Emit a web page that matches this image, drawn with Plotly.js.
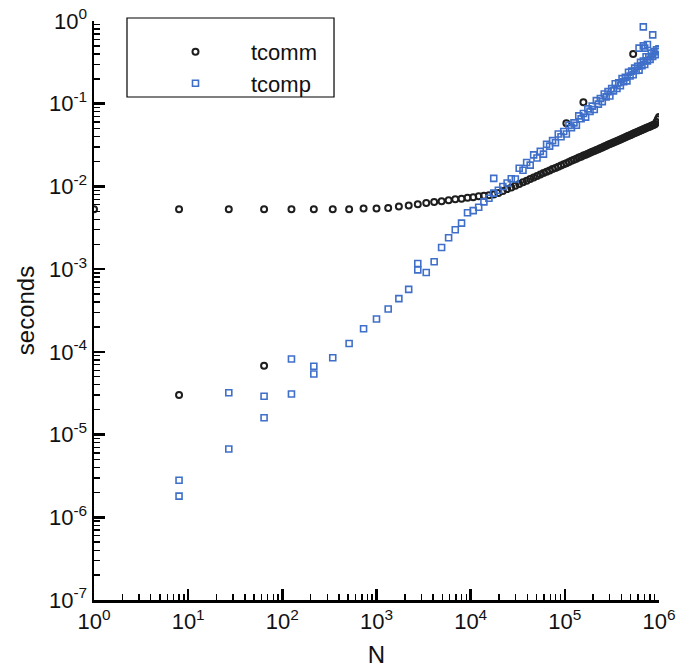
<!DOCTYPE html>
<html>
<head>
<meta charset="utf-8">
<script src="https://cdn.plot.ly/plotly-3.0.1.min.js"></script>
<style>html,body{margin:0;padding:0;background:#fff;}#chart{width:677px;height:671px;}</style>
</head>
<body>
<div id="chart"></div>
<script>
// tcomm: problem size N and communication time (s), plus a few dark outliers
var commN = [1,8,27,64,125,216,343,512,729,1000,1331,1728,2197,2744,3375,4096,4913,5832,6859,8000,
  9261,10648,12167,13824,15625,17576,19683,21952,24389,27000,29791,32768,35937,39304,42875,46656,50653,54872,59319,64000,
  68921,74088,79507,85184,91125,97336,103823,110592,117649,125000,132651,140608,148877,157464,166375,175616,185193,195112,205379,216000,
  226981,238328,250047,262144,274625,287496,300763,314432,328509,343000,357911,373248,389017,405224,421875,438976,456533,474552,493039,512000,
  531441,551368,571787,592704,614125,636056,658503,681472,704969,729000,753571,778688,804357,830584,857375,884736,912673,941192,970299,1000000,
  8,64,103823,157464,531441];
var commT = [0.0053,0.0053,0.0053,0.0053,0.0053,0.0053,0.0053,0.0053,0.0054,0.0054,
  0.0055,0.0057,0.0059,0.0061,0.0063,0.0065,0.0066,0.0068,0.0070,0.0071,
  0.0073,0.0074,0.0076,0.0077,0.0078,0.0080,0.0083,0.0088,0.0093,0.0097,
  0.0102,0.0107,0.0112,0.0117,0.0123,0.0128,0.0134,0.0139,0.0145,0.0150,
  0.0156,0.0162,0.0167,0.0173,0.0179,0.0185,0.0191,0.0197,0.0204,0.0210,
  0.0216,0.0223,0.0229,0.0236,0.0242,0.0249,0.0255,0.0262,0.0269,0.0275,
  0.0282,0.0290,0.0296,0.0303,0.0310,0.0318,0.0325,0.0333,0.0340,0.0348,
  0.0355,0.0362,0.0370,0.0378,0.0385,0.0393,0.0401,0.0409,0.0417,0.0425,
  0.0433,0.0441,0.0449,0.0457,0.0465,0.0473,0.0481,0.0490,0.0498,0.0507,
  0.0515,0.0524,0.0532,0.0541,0.0549,0.0558,0.0570,0.0600,0.0650,0.0690,
  3.0e-5,6.8e-5,0.058,0.104,0.40];

// tcomp: problem size N and computation time (s)
var compN = [8,8,27,27,64,64,125,125,216,216,343,512,729,1000,1331,1728,2197,2744,2744,3375,
  4096,4913,5832,6859,8000,9261,10648,12167,13824,15625,17576,17576,19683,21952,24389,
  27000,29791,32768,35937,39304,42875,46656,50653,54872,59319,64000,
  68921,74088,79507,85184,91125,97336,103823,110592,117649,125000,132651,140608,148877,157464,166375,175616,185193,195112,205379,216000,
  226981,238328,250047,262144,274625,287496,300763,314432,328509,343000,357911,373248,389017,405224,421875,438976,456533,474552,493039,512000,
  531441,551368,571787,592704,614125,636056,658503,681472,704969,729000,753571,778688,804357,830584,857375,884736,912673,941192,970299,1000000,
  681472,857375,614125,681472,704969,753571];
var compT = [2.8e-6,1.8e-6,3.2e-5,6.7e-6,2.9e-5,1.6e-5,8.2e-5,3.1e-5,6.7e-5,5.4e-5,8.5e-5,1.26e-4,1.9e-4,2.5e-4,3.3e-4,4.4e-4,5.7e-4,1.17e-3,9.8e-4,9.1e-4,
  1.23e-3,1.83e-3,2.4e-3,3.0e-3,3.6e-3,4.8e-3,5.1e-3,5.6e-3,6.5e-3,7.2e-3,8.3e-3,1.25e-2,9.0e-3,1.0e-2,1.1e-2,
  0.0124,0.0123,0.0166,0.0157,0.0195,0.0181,0.0241,0.0221,0.0265,0.0246,0.0323,
  0.0307,0.0358,0.0337,0.0431,0.0398,0.0461,0.0430,0.0550,0.0514,0.0587,0.0549,0.0712,0.0658,0.0760,0.0689,0.0865,0.0809,0.0934,0.0851,0.109,
  0.0988,0.1155,0.106,0.131,0.121,0.140,0.124,0.152,0.143,0.174,0.153,0.179,0.165,0.201,0.184,0.208,0.189,0.240,0.216,0.248,
  0.224,0.269,0.252,0.284,0.255,0.316,0.288,0.329,0.298,0.369,0.330,0.369,0.344,0.409,0.374,0.427,0.391,0.450,0.428,0.46,
  0.85,0.68,0.47,0.50,0.47,0.52];

// axis tick labels
var xTickVals = [1,10,100,1000,10000,100000,1000000];
var xTickText = ['10<sup>0</sup>','10<sup>1</sup>','10<sup>2</sup>','10<sup>3</sup>','10<sup>4</sup>','10<sup>5</sup>','10<sup>6</sup>'];
var yTickVals = [1e-7,1e-6,1e-5,1e-4,1e-3,1e-2,1e-1,1];
var yTickText = ['10<sup>-7</sup>','10<sup>-6</sup>','10<sup>-5</sup>','10<sup>-4</sup>','10<sup>-3</sup>','10<sup>-2</sup>','10<sup>-1</sup>','10<sup>0</sup>'];

function minorVals(lo, hi) {
  var v = [];
  for (var e = lo; e < hi; e++) for (var m = 2; m <= 9; m++) v.push(m * Math.pow(10, e));
  return v;
}

var font = 'Liberation Sans, Arial, Helvetica, sans-serif';

var traces = [
  {x: commN, y: commT, name: 'tcomm', type: 'scatter', mode: 'markers',
   marker: {symbol: 'circle-open', size: 6, color: '#1e1e1e', line: {width: 2, color: '#1e1e1e'}}},
  {x: compN, y: compT, name: 'tcomp', type: 'scatter', mode: 'markers',
   marker: {symbol: 'square-open', size: 6, color: '#3f6fc9', line: {width: 1.6, color: '#3f6fc9'}}},
  // empty helper trace so the minor-tick overlay axis is drawn
  {x: [], y: [], xaxis: 'x', yaxis: 'y2', type: 'scatter', mode: 'markers', showlegend: false, hoverinfo: 'skip'}
];

var axisCommon = {
  type: 'log', showgrid: false, zeroline: false, showline: true, linecolor: '#000', linewidth: 2.5,
  ticks: 'inside', ticklen: 11, tickwidth: 2.5, tickcolor: '#000', tickmode: 'array',
  tickfont: {family: font, size: 22, color: '#111'},
  mirror: false
};

var layout = {
  width: 677, height: 671,
  margin: {l: 94, r: 18, t: 21, b: 71},
  paper_bgcolor: '#fff', plot_bgcolor: '#fff',
  font: {family: font, color: '#111'},
  xaxis: Object.assign({}, axisCommon, {range: [0, 6], tickvals: xTickVals, ticktext: xTickText,
    minor: {ticks: 'inside', ticklen: 6, tickwidth: 1.4, tickcolor: '#000', tickmode: 'array', tickvals: minorVals(0, 6), showgrid: false},
    title: {text: 'N', font: {family: font, size: 24}, standoff: 14}}),
  yaxis: Object.assign({}, axisCommon, {range: [-7, 0], tickvals: yTickVals, ticktext: yTickText,
    title: {text: 'seconds', font: {family: font, size: 24}, standoff: 8}}),
  yaxis2: {type: 'log', overlaying: 'y', side: 'left', range: [-7, 0], tickmode: 'array', tickvals: minorVals(-7, 0),
    ticks: 'inside', ticklen: 6, tickwidth: 1.4, tickcolor: '#000', showticklabels: false,
    showgrid: false, zeroline: false, showline: false},
  legend: {x: 0.0814, y: 0.983, xanchor: 'left', yanchor: 'top', bgcolor: 'rgba(0,0,0,0)', borderwidth: 0,
    font: {family: font, size: 22, color: '#111'}, itemwidth: 101},
  shapes: [
    {type: 'rect', xref: 'paper', yref: 'paper', x0: 0.0584, x1: 0.4248, y0: 0.8687, y1: 1.0052,
     line: {color: '#000', width: 1.2}, fillcolor: 'rgba(0,0,0,0)', layer: 'above'}
  ],
  showlegend: true
};

Plotly.newPlot('chart', traces, layout, {displayModeBar: false, staticPlot: true});
</script>
</body>
</html>
